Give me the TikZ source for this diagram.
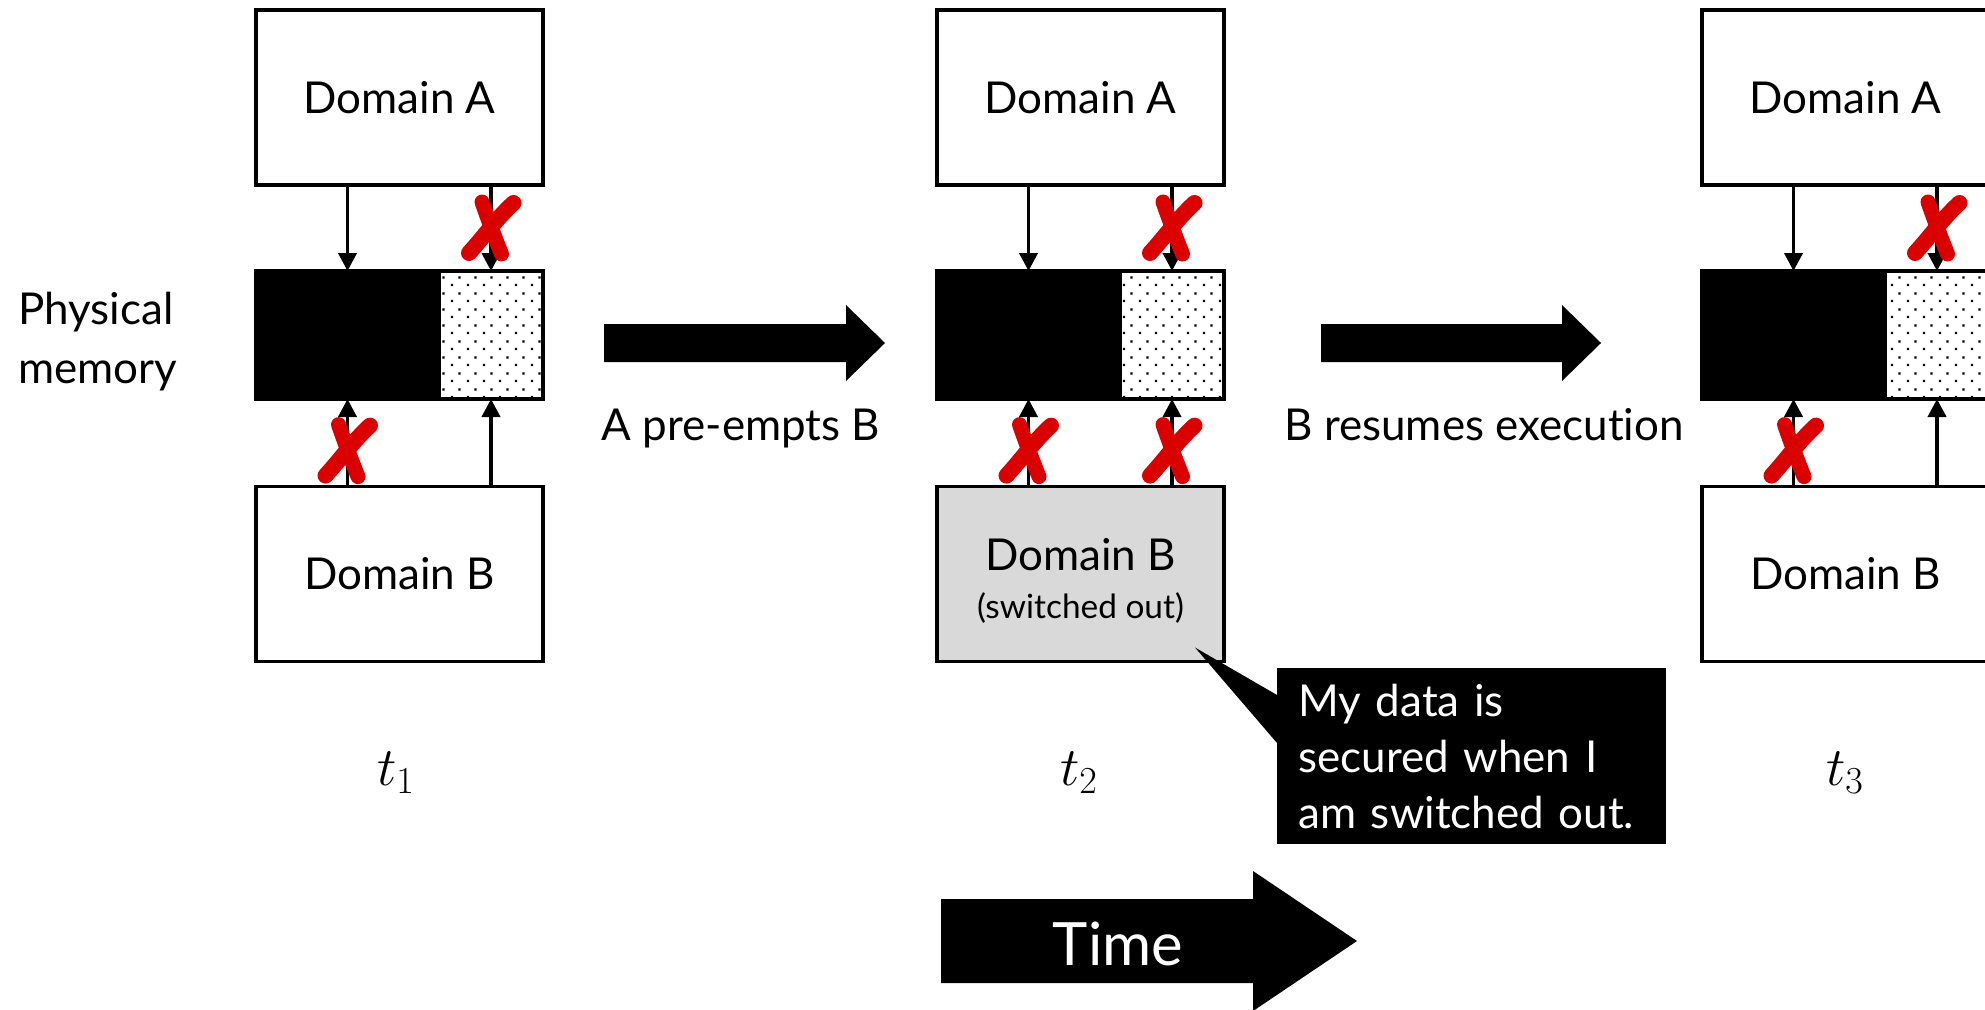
\documentclass[tikz,border=0pt]{standalone}
\usepackage{fix-cm}
\usepackage[no-math]{fontspec}
\setmainfont{Lato}[Ligatures={NoCommon}]
\usetikzlibrary{positioning,arrows.meta,patterns.meta,calc}

\definecolor{offgray}{RGB}{217,217,217}
\definecolor{crossred}{RGB}{218,0,0}

\tikzdeclarepattern{
  name=memdots,
  bounding box={(0,0) and (0.32cm,0.32cm)},
  tile size={(0.32cm,0.32cm)},
  code={
    \fill (0.06cm,0.06cm) rectangle ++(0.046cm,0.046cm);
    \fill (0.22cm,0.22cm) rectangle ++(0.046cm,0.046cm);
  }
}

\tikzset{
  domainbox/.style={draw, line width=2pt, minimum width=5.74cm, minimum height=3.5cm,
    outer sep=0pt, font=\fontsize{25}{30}\selectfont},
  blkpart/.style={draw, fill=black, line width=2pt, minimum width=3.66cm,
    minimum height=2.56cm, inner sep=0pt, outer sep=0pt},
  dotpart/.style={draw, line width=2pt, pattern=memdots, pattern color=black,
    minimum width=2.08cm, minimum height=2.56cm, inner sep=0pt, outer sep=0pt},
  link/.style={line width=2.2pt, -{Triangle[width=0.36cm,length=0.36cm]}},
  xstroke/.style={crossred, line cap=round},
  nomark/.pic={
    \draw[xstroke, line width=0.32cm] (-0.44,-0.5) .. controls (-0.12,-0.15) and (0.12,0.2) .. (0.45,0.5);
    \draw[xstroke, line width=0.3cm] (-0.18,0.52) .. controls (-0.05,0.15) and (0.08,-0.2) .. (0.21,-0.52);
  },
  plaintext/.style={font=\fontsize{25}{30}\selectfont},
  timestamp/.style={font=\fontsize{31}{37}\selectfont},
  callout/.style={fill=black, text=white, align=left, minimum width=7.78cm,
    minimum height=3.52cm, text width=6.94cm, inner xsep=0.42cm,
    font=\fontsize{25}{32}\selectfont},
}

\begin{document}
\begin{tikzpicture}
    % white background
    \useasboundingbox (0,0) rectangle (39.7,-20.18);
    \fill[white] (0,0) rectangle (39.7,-20.18);

    \node[align=left, anchor=west, inner sep=0pt, font=\fontsize{25}{33.6}\selectfont] (physmem) at (0.36,-6.84) {Physical\\memory};

    % t1
    \node[domainbox] (a1) at (7.99,-1.95) {Domain A};
    \node[blkpart, anchor=north west] (blk1) at (5.12,-5.42) {};
    \node[dotpart, right=0pt of blk1] (dot1) {};
    \node[domainbox] (b1) at (7.99,-11.48) {Domain B};
    \draw[link] (a1.south -| blk1) -- (blk1.north);
    \draw[link] (a1.south -| dot1) -- (dot1.north);
    \draw[link] (b1.north -| blk1) -- (blk1.south);
    \draw[link] (b1.north -| dot1) -- (dot1.south);
    \pic at ($(a1.south -| dot1)!0.5!(dot1.north)$) {nomark};
    \pic at ($(blk1.south)!0.59!(b1.north -| blk1)$) {nomark};
    \node[timestamp, anchor=base] (t1) at (7.92,-15.7) {$t_1$};

    % t1 -> t2
    \fill (12.08,-6.48) -- (16.92,-6.48) -- (16.92,-6.1) -- (17.7,-6.86)
        -- (16.92,-7.62) -- (16.92,-7.24) -- (12.08,-7.24) -- cycle;
    \node[plaintext, anchor=base] (preempt) at (14.82,-8.8) {A pre-empts B};

    % t2
    \node[domainbox] (a2) at (21.61,-1.95) {Domain A};
    \node[blkpart, anchor=north west] (blk2) at (18.74,-5.42) {};
    \node[dotpart, right=0pt of blk2] (dot2) {};
    \node[domainbox, fill=offgray, align=center, font=\fontsize{25}{27.5}\selectfont] (b2) at (21.61,-11.48)
        {\rule{0pt}{0.92cm}Domain B\\{\fontsize{19}{27.5}\selectfont (switched out)}};
    \draw[link] (a2.south -| blk2) -- (blk2.north);
    \draw[link] (a2.south -| dot2) -- (dot2.north);
    \draw[link] (b2.north -| blk2) -- (blk2.south);
    \draw[link] (b2.north -| dot2) -- (dot2.south);
    \pic at ($(a2.south -| dot2)!0.5!(dot2.north)$) {nomark};
    \pic at ($(blk2.south)!0.59!(b2.north -| blk2)$) {nomark};
    \pic at ($(dot2.south)!0.59!(b2.north -| dot2)$) {nomark};
    \node[timestamp, anchor=base] (t2) at (21.58,-15.7) {$t_2$};

    % speech bubble
    \node[callout, anchor=north west] (note) at (25.54,-13.36) {My data is\\secured when I\\am switched out.};
    \coordinate (tip) at ($(b2.south east)+(-0.58,0.28)$);
    \fill (tip) -- ([yshift=-0.54cm]note.north west) -- ([yshift=-1.5cm]note.north west) -- cycle;

    % t2 -> t3
    \fill (26.42,-6.48) -- (31.24,-6.48) -- (31.24,-6.1) -- (32.02,-6.86)
        -- (31.24,-7.62) -- (31.24,-7.24) -- (26.42,-7.24) -- cycle;
    \node[plaintext, anchor=base] (resume) at (29.68,-8.8) {B resumes execution};

    % t3
    \node[domainbox] (a3) at (36.91,-1.95) {Domain A};
    \node[blkpart, anchor=north west] (blk3) at (34.04,-5.42) {};
    \node[dotpart, right=0pt of blk3] (dot3) {};
    \node[domainbox] (b3) at (36.91,-11.48) {Domain B};
    \draw[link] (a3.south -| blk3) -- (blk3.north);
    \draw[link] (a3.south -| dot3) -- (dot3.north);
    \draw[link] (b3.north -| blk3) -- (blk3.south);
    \draw[link] (b3.north -| dot3) -- (dot3.south);
    \pic at ($(a3.south -| dot3)!0.5!(dot3.north)$) {nomark};
    \pic at ($(blk3.south)!0.59!(b3.north -| blk3)$) {nomark};
    \node[timestamp, anchor=base] (t3) at (36.9,-15.7) {$t_3$};

    % time arrow
    \fill (18.82,-17.98) -- (25.06,-17.98) -- (25.06,-17.42) -- (27.14,-18.82)
        -- (25.06,-20.22) -- (25.06,-19.66) -- (18.82,-19.66) -- cycle;
    \node[font=\fontsize{34}{40}\selectfont, text=white, anchor=base] (timelabel) at (22.36,-19.3) {Time};

\end{tikzpicture}
\end{document}
